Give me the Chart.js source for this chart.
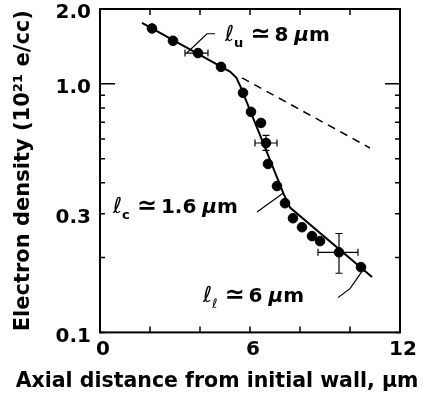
<!DOCTYPE html>
<html>
<head>
<meta charset="utf-8">
<script src="https://cdn.jsdelivr.net/npm/chart.js@4"></script>
<style>
html, body { margin: 0; padding: 0; background: #fff; }
</style>
</head>
<body>
<canvas id="c" width="424" height="398"></canvas>
<script>
// measured densities
const xs = [2.08, 2.92, 3.92, 4.84, 5.72, 6.04, 6.44, 6.64, 6.72, 7.08, 7.4, 7.72, 8.08, 8.48, 8.8, 9.56, 10.44];
const ys = [1.67, 1.49, 1.33, 1.17, 0.92, 0.771, 0.696, 0.578, 0.476, 0.388, 0.331, 0.288, 0.265, 0.244, 0.233, 0.21, 0.183];

// error bars
const errX = [3.92, 6.64, 9.56];
const errY = [1.33, 0.578, 0.21];
const errXLo = [3.4, 6.2, 8.72];
const errXHi = [4.32, 7.08, 10.32];
const errYLo = [1.33, 0.54, 0.173];
const errYHi = [1.33, 0.62, 0.25];

// fitted profile
const fitX = [1.68, 5.2, 5.45, 5.62, 7.35, 7.6, 10.88];
const fitY = [1.76, 1.12, 1.06, 0.975, 0.36, 0.318, 0.167];

// extrapolated upper slope
const dashX = [5.68, 10.8];
const dashY = [1.057, 0.552];

const xTicks = [0, 2, 4, 6, 8, 10, 12];
const xLabels = {0: '0', 6: '6', 12: '12'};
const yTicks = [0.1, 0.2, 0.3, 0.4, 0.5, 0.6, 0.7, 0.8, 0.9, 1, 2];
const yLabels = {0.1: '0.1', 0.3: '0.3', 1: '1.0', 2: '2.0'};

const SANS = '"DejaVu Sans", "Liberation Sans", Arial, sans-serif';

const pts = (a, b) => a.map((v, i) => ({x: v, y: b[i]}));

// text runs drawn one after the other
function drawRuns(ctx, x, y, runs) {
    let cx = x;
    runs.forEach(r => {
        ctx.font = r.f;
        ctx.fillText(r.t, cx, y + (r.dy || 0));
        cx += ctx.measureText(r.t).width + (r.gap || 0);
    });
}

function ellLabel(sub, subFont, rest) {
    return [
        {t: 'ℓ', f: '22px "DejaVu Sans"'},
        {t: sub, f: subFont, dy: 6, gap: 7},
        {t: '≃', f: 'bold 24px ' + SANS, gap: 4},
        {t: rest, f: 'bold 20px ' + SANS, gap: 6},
        {t: 'μ', f: 'italic bold 20px ' + SANS},
        {t: 'm', f: 'bold 20px ' + SANS}
    ];
}

const frameTicks = {
    id: 'frameTicks',
    afterDatasetsDraw(chart) {
        const {ctx, scales: {x, y}} = chart;
        ctx.save();
        ctx.strokeStyle = '#000';
        ctx.lineWidth = 1.2;
        ctx.beginPath();
        errX.forEach((v, i) => {
            const px = x.getPixelForValue(v), py = y.getPixelForValue(errY[i]);
            const l = x.getPixelForValue(errXLo[i]), r = x.getPixelForValue(errXHi[i]);
            ctx.moveTo(l, py); ctx.lineTo(r, py);
            ctx.moveTo(l, py - 3.5); ctx.lineTo(l, py + 3.5);
            ctx.moveTo(r, py - 3.5); ctx.lineTo(r, py + 3.5);
            if (errYLo[i] !== errYHi[i]) {
                const t = y.getPixelForValue(errYHi[i]), b = y.getPixelForValue(errYLo[i]);
                ctx.moveTo(px, t); ctx.lineTo(px, b);
                ctx.moveTo(px - 3.5, t); ctx.lineTo(px + 3.5, t);
                ctx.moveTo(px - 3.5, b); ctx.lineTo(px + 3.5, b);
            }
        });
        ctx.stroke();
        ctx.restore();
    },
    afterDraw(chart) {
        const {ctx, chartArea: a, scales: {x, y}} = chart;
        ctx.save();
        ctx.strokeStyle = '#000';
        ctx.fillStyle = '#000';
        ctx.lineWidth = 2;
        ctx.strokeRect(a.left, a.top, a.right - a.left, a.bottom - a.top);

        // inward ticks on all four sides
        ctx.lineWidth = 1.5;
        ctx.beginPath();
        xTicks.forEach(v => {
            const px = x.getPixelForValue(v);
            ctx.moveTo(px, a.bottom); ctx.lineTo(px, a.bottom - 6);
            ctx.moveTo(px, a.top); ctx.lineTo(px, a.top + 6);
        });
        yTicks.forEach(v => {
            const py = y.getPixelForValue(v);
            const len = v === 1 ? 15 : 5;
            ctx.moveTo(a.left, py); ctx.lineTo(a.left + len, py);
            ctx.moveTo(a.right, py); ctx.lineTo(a.right - len, py);
        });
        ctx.stroke();

        // leader lines
        const P = (vx, vy) => [x.getPixelForValue(vx), y.getPixelForValue(vy)];
        const poly = list => {
            list.forEach((q, i) => {
                const p = P(q[0], q[1]);
                if (i === 0) ctx.moveTo(p[0], p[1]); else ctx.lineTo(p[0], p[1]);
            });
        };
        ctx.lineWidth = 1.2;
        ctx.beginPath();
        poly([[3.48, 1.333], [4.28, 1.59], [4.6, 1.59]]);
        poly([[6.28, 0.305], [7.32, 0.363]]);
        poly([[9.52, 0.138], [10.0, 0.15], [10.32, 0.167], [10.48, 0.176]]);
        ctx.stroke();

        // labels
        ctx.textBaseline = 'alphabetic';
        let p = P(5.0, 1.49);
        drawRuns(ctx, p[0], p[1], ellLabel('u', 'bold 13px ' + SANS, '8'));
        p = P(0.52, 0.302);
        drawRuns(ctx, p[0], p[1], ellLabel('c', 'bold 13px ' + SANS, '1.6'));
        p = P(4.12, 0.132);
        drawRuns(ctx, p[0], p[1], ellLabel('ℓ', '13px "DejaVu Sans"', '6'));
        ctx.restore();
    }
};

new Chart(document.getElementById('c'), {
    type: 'scatter',
    data: {
        datasets: [
            {
                data: pts(xs, ys),
                pointRadius: 4.8,
                backgroundColor: '#000',
                borderColor: '#000',
                showLine: false,
                order: 0
            },
            {
                type: 'line',
                data: pts(fitX, fitY),
                borderColor: '#000',
                borderWidth: 2,
                pointRadius: 0,
                fill: false,
                tension: 0,
                order: 1
            },
            {
                type: 'line',
                data: pts(dashX, dashY),
                borderColor: '#000',
                borderWidth: 1.5,
                borderDash: [8, 6],
                pointRadius: 0,
                fill: false,
                order: 2
            }
        ]
    },
    options: {
        responsive: false,
        animation: false,
        layout: {padding: {left: 10, top: 0}},
        plugins: {
            legend: {display: false},
            tooltip: {enabled: false},
            title: {
                display: true,
                position: 'bottom',
                text: 'Axial distance from initial wall, μm',
                color: '#000',
                font: {family: SANS, size: 20.5, weight: 'bold'},
                padding: {top: 0, bottom: 4}
            }
        },
        scales: {
            x: {
                type: 'linear',
                min: 0,
                max: 12,
                grid: {display: false, drawTicks: false},
                border: {display: false},
                ticks: {
                    stepSize: 2,
                    autoSkip: false,
                    maxRotation: 0,
                    padding: 5,
                    labelOffset: 3,
                    color: '#000',
                    font: {family: SANS, size: 20, weight: 'bold'},
                    callback: v => xLabels[v] ?? ''
                },
                afterFit: s => { s.height = 37; }
            },
            y: {
                type: 'logarithmic',
                min: 0.1,
                max: 2,
                grid: {display: false, drawTicks: false},
                border: {display: false},
                afterBuildTicks: s => { s.ticks = yTicks.map(v => ({value: v})); },
                ticks: {
                    autoSkip: false,
                    padding: 9,
                    labelOffset: 4,
                    color: '#000',
                    font: {family: SANS, size: 20, weight: 'bold'},
                    callback: v => yLabels[v] ?? ''
                },
                title: {
                    display: true,
                    text: 'Electron density (10²¹ e/cc)',
                    color: '#000',
                    font: {family: SANS, size: 21, weight: 'bold'},
                    padding: {top: 1, bottom: 0}
                },
                afterFit: s => { s.width = 90; s.paddingTop = 9; }
            },
            y2: {
                type: 'linear',
                position: 'right',
                grid: {display: false, drawTicks: false},
                border: {display: false},
                ticks: {display: false},
                afterFit: s => { s.width = 24; }
            }
        }
    },
    plugins: [frameTicks]
});
</script>
</body>
</html>
